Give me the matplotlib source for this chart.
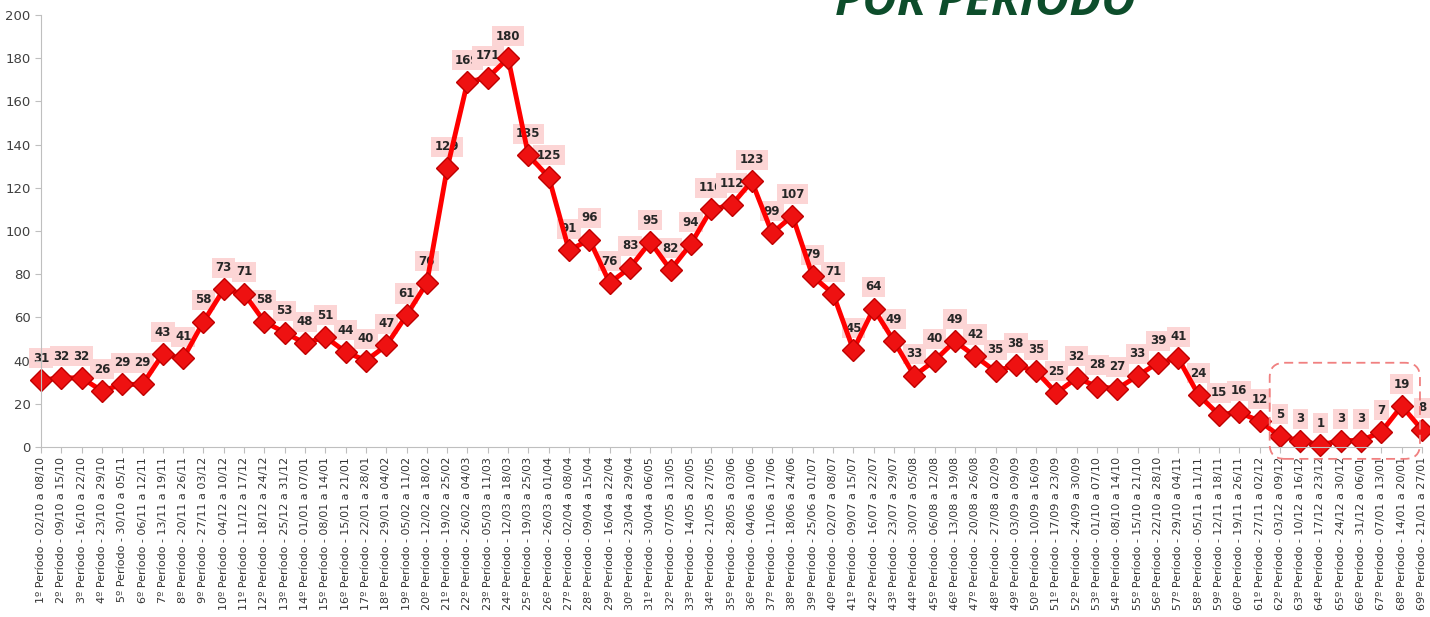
import matplotlib
matplotlib.use("Agg")
import matplotlib.pyplot as plt
from matplotlib.patches import FancyBboxPatch

values = [31, 32, 32, 26, 29, 29, 43, 41, 58, 73, 71, 58, 53, 48, 51, 44, 40, 47, 61, 76,
          129, 169, 171, 180, 135, 125, 91, 96, 76, 83, 95, 82, 94, 110, 112, 123, 99, 107, 79, 71,
          45, 64, 49, 33, 40, 49, 42, 35, 38, 35, 25, 32, 28, 27, 33, 39, 41, 24, 15, 16,
          12, 5, 3, 1, 3, 3, 7, 19, 8]

start_dates = ["02/10", "09/10", "16/10", "23/10", "30/10", "06/11", "13/11", "20/11", "27/11", "04/12",
               "11/12", "18/12", "25/12", "01/01", "08/01", "15/01", "22/01", "29/01", "05/02", "12/02",
               "19/02", "26/02", "05/03", "12/03", "19/03", "26/03", "02/04", "09/04", "16/04", "23/04",
               "30/04", "07/05", "14/05", "21/05", "28/05", "04/06", "11/06", "18/06", "25/06", "02/07",
               "09/07", "16/07", "23/07", "30/07", "06/08", "13/08", "20/08", "27/08", "03/09", "10/09",
               "17/09", "24/09", "01/10", "08/10", "15/10", "22/10", "29/10", "05/11", "12/11", "19/11",
               "27/11", "03/12", "10/12", "17/12", "24/12", "31/12", "07/01", "14/01", "21/01"]
end_dates = ["08/10", "15/10", "22/10", "29/10", "05/11", "12/11", "19/11", "26/11", "03/12", "10/12",
             "17/12", "24/12", "31/12", "07/01", "14/01", "21/01", "28/01", "04/02", "11/02", "18/02",
             "25/02", "04/03", "11/03", "18/03", "25/03", "01/04", "08/04", "15/04", "22/04", "29/04",
             "06/05", "13/05", "20/05", "27/05", "03/06", "10/06", "17/06", "24/06", "01/07", "08/07",
             "15/07", "22/07", "29/07", "05/08", "12/08", "19/08", "26/08", "02/09", "09/09", "16/09",
             "23/09", "30/09", "07/10", "14/10", "21/10", "28/10", "04/11", "11/11", "18/11", "26/11",
             "02/12", "09/12", "16/12", "23/12", "30/12", "06/01", "13/01", "20/01", "27/01"]

labels = [f"{i+1}º Período - {s} a {e}" for i, (s, e) in enumerate(zip(start_dates, end_dates))]
x = list(range(1, len(values) + 1))

fig = plt.figure(figsize=(14.3, 6.17), dpi=100)
ax = fig.add_axes([41/1430, 1 - 447/617, (1422 - 41)/1430, (447 - 15)/617])

ax.plot(x, values, color="#ff0000", lw=3.5, zorder=2, clip_on=False,
        marker="D", markersize=11, markerfacecolor="#ee1111", markeredgecolor="#c00000",
        markeredgewidth=1)

for xi, v in zip(x, values):
    ax.annotate(str(v), (xi, v), xytext=(0, 11), textcoords="offset points",
                ha="center", va="bottom", fontsize=8.5, fontweight="bold", color="#262626",
                bbox=dict(boxstyle="square,pad=0.3", facecolor="#fcd5d5", edgecolor="none"),
                zorder=1, annotation_clip=False)

ax.set_xlim(1, len(values))
ax.set_ylim(0, 200)
ax.set_yticks(range(0, 201, 20))
ax.set_xticks(x)
ax.set_xticklabels(labels, rotation=90, fontsize=8, color="#333333")
ax.tick_params(axis="y", labelsize=9.5, colors="#404040", length=4, color="#bfbfbf")
ax.tick_params(axis="x", length=4, color="#bfbfbf", pad=3)
for side in ["top", "right"]:
    ax.spines[side].set_visible(False)
for side in ["left", "bottom"]:
    ax.spines[side].set_color("#bfbfbf")

box = FancyBboxPatch((61.5, -5.5), 68.9 - 61.5, 44.5,
                     boxstyle="round,pad=0,rounding_size=0.75", mutation_aspect=9,
                     facecolor="none", edgecolor="#f08080", lw=1.3, linestyle=(0, (5, 3)),
                     clip_on=False, zorder=3)
ax.add_patch(box)

fig.text(985/1430, 1 - 15/617, "POR PERÍODO", ha="center", va="baseline",
         fontsize=34, fontweight="bold", fontstyle="italic", color="#0d4d2b",
         family="Open Sans")

fig.savefig("out.png", dpi=100)
